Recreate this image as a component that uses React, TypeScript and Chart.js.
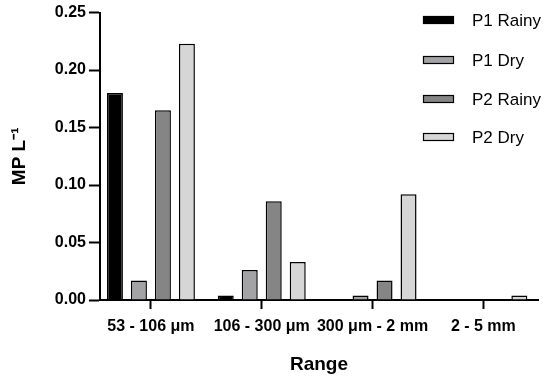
import React, { useEffect, useRef } from "react";
import { Chart, registerables } from "chart.js";

Chart.register(...registerables);

const categories = ["53 - 106 μm", "106 - 300 μm", "300 μm - 2 mm", "2 - 5 mm"];
const p1Rainy = [0.18, 0.004, 0, 0];
const p1Dry = [0.017, 0.026, 0.004, 0];
const p2Rainy = [0.165, 0.086, 0.017, 0];
const p2Dry = [0.223, 0.033, 0.092, 0.004];
const seriesNames = ["P1 Rainy", "P1 Dry", "P2 Rainy", "P2 Dry"];
const seriesColors = ["#000000", "#a3a3a6", "#858585", "#d6d6d6"];
const yTicks = [0, 0.05, 0.1, 0.15, 0.2, 0.25];

const FONT = "'Liberation Sans', Arial, Helvetica, sans-serif";

const legendPlugin = {
  id: "customLegend",
  afterDraw(chart: any) {
    const ctx = chart.ctx;
    const x0 = 423;
    const rows = [20, 60, 99, 137];
    ctx.save();
    chart.data.datasets.forEach((ds: any, i: number) => {
      const y = rows[i];
      ctx.fillStyle = ds.backgroundColor;
      ctx.fillRect(x0, y - 4, 31, 8);
      ctx.strokeStyle = "#000";
      ctx.lineWidth = 1.2;
      ctx.strokeRect(x0 + 0.5, y - 3.5, 30, 7);
      ctx.fillStyle = "#000";
      ctx.font = `17px ${FONT}`;
      ctx.textBaseline = "middle";
      ctx.textAlign = "left";
      ctx.fillText(ds.label, 472, y + 1);
    });
    ctx.restore();
  },
};

export default function App() {
  const ref = useRef<HTMLCanvasElement | null>(null);
  useEffect(() => {
    if (!ref.current) return;
    const values = [p1Rainy, p1Dry, p2Rainy, p2Dry];
    const chart = new Chart(ref.current, {
      type: "bar",
      data: {
        labels: categories,
        datasets: values.map((v, i) => ({
          label: seriesNames[i],
          data: v,
          backgroundColor: seriesColors[i],
          borderColor: "#000",
          borderWidth: 1.5,
          borderSkipped: "bottom",
          categoryPercentage: 0.866,
          barPercentage: 0.667,
        })),
      },
      options: {
        animation: false,
        responsive: false,
        maintainAspectRatio: false,
        layout: { padding: { top: 4, right: 12, left: 8, bottom: 0 } },
        plugins: {
          legend: { display: false },
          tooltip: { enabled: false },
        },
        scales: {
          x: {
            offset: true,
            afterBuildTicks(axis: any) {
              axis.ticks = categories.map((_, i) => ({ value: i }));
              axis._startValue = -0.46;
              axis._valueRange = 3.953;
            },
            grid: {
              offset: false,
              drawOnChartArea: false,
              drawTicks: true,
              tickLength: 9,
              tickWidth: 2,
              tickColor: "#000",
            },
            border: { display: true, color: "#000", width: 2 },
            ticks: {
              color: "#000",
              font: { family: FONT, size: 16, weight: "bold" },
              padding: 8,
              maxRotation: 0,
              autoSkip: false,
            },
            title: {
              display: true,
              text: "Range",
              color: "#000",
              font: { family: FONT, size: 19, weight: "bold" },
              padding: { top: 9, bottom: 3 },
            },
          },
          y: {
            min: 0,
            max: 0.25,
            afterBuildTicks(axis: any) {
              axis.ticks = yTicks.map((v) => ({ value: v }));
            },
            grid: {
              drawOnChartArea: false,
              drawTicks: true,
              tickLength: 11,
              tickWidth: 2,
              tickColor: "#000",
            },
            border: { display: true, color: "#000", width: 2 },
            ticks: {
              color: "#000",
              font: { family: FONT, size: 16, weight: "bold" },
              padding: 3,
              callback: (v: any) => Number(v).toFixed(2),
            },
            title: {
              display: true,
              text: "MP L⁻¹",
              color: "#000",
              font: { family: FONT, size: 19, weight: "bold" },
              padding: { top: 0, bottom: 21 },
            },
          },
        },
      },
      plugins: [legendPlugin],
    });
    return () => chart.destroy();
  }, []);
  return (
    <div style={{ position: "fixed", left: 0, top: 0, width: 550, height: 379, background: "#fff" }}>
      <canvas ref={ref} width={550} height={379} />
    </div>
  );
}
